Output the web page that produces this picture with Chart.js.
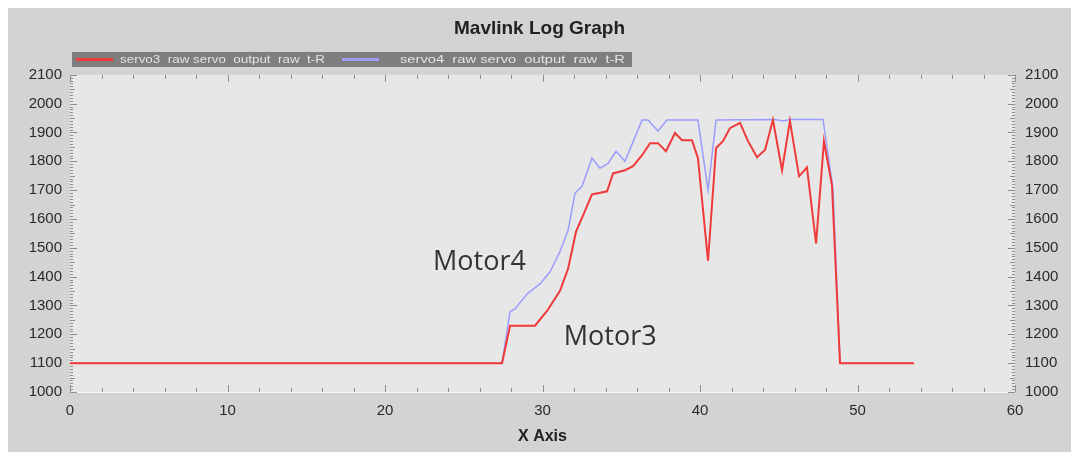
<!DOCTYPE html>
<html>
<head>
<meta charset="utf-8">
<script src="https://cdn.jsdelivr.net/npm/chart.js@4/dist/chart.umd.min.js"></script>
<style>
  html, body { margin: 0; padding: 0; background: #ffffff; }
  canvas { display: block; }
</style>
</head>
<body>
<canvas id="c" width="1079" height="460"></canvas>
<script>
// ---- data ----
const servo3X = [0, 27.43, 27.94, 29.52, 30.29, 31.11, 31.62, 32.13, 32.57, 33.14, 34.10, 34.48, 35.24, 35.75, 36.32, 36.83, 37.33, 37.84, 38.41, 38.86, 39.49, 39.87, 40.51, 41.02, 41.46, 41.90, 42.54, 43.05, 43.62, 44.13, 44.63, 45.21, 45.71, 46.29, 46.79, 47.37, 47.87, 48.38, 48.89, 53.59];
const servo3Y = [1100, 1100, 1230, 1230, 1281, 1351, 1427, 1556, 1612, 1685, 1696, 1758, 1769, 1783, 1821, 1863, 1863, 1835, 1898, 1873, 1873, 1811, 1455, 1846, 1870, 1915, 1933, 1870, 1814, 1839, 1944, 1769, 1940, 1748, 1779, 1515, 1870, 1717, 1100, 1100];
const servo4X = [0, 27.43, 27.94, 28.25, 29.02, 29.84, 30.48, 31.11, 31.62, 32.06, 32.51, 33.14, 33.65, 34.16, 34.67, 35.24, 36.32, 36.70, 37.33, 37.90, 39.87, 40.51, 41.02, 44.76, 45.27, 45.71, 47.81, 48.44, 48.89, 53.59];
const servo4Y = [1100, 1100, 1278, 1288, 1340, 1375, 1417, 1487, 1560, 1689, 1713, 1811, 1776, 1793, 1835, 1800, 1943, 1943, 1905, 1943, 1943, 1700, 1943, 1945, 1940, 1945, 1945, 1706, 1100, 1100];
const seriesLabels = ['servo3  raw servo  output  raw  t-R', 'servo4  raw servo  output  raw  t-R'];
const chartTitle = 'Mavlink Log Graph';
const xAxisTitle = 'X Axis';
const xMin = 0, xMax = 60, xStep = 10;
const yMin = 1000, yMax = 2100, yStep = 100;
const annotations = [
  { text: 'Motor4', x: 26.0, y: 1450 },
  { text: 'Motor3', x: 34.3, y: 1190 }
];

const FONT = "'Liberation Sans', Arial, sans-serif";
const toPts = (xs, ys) => xs.map((x, i) => ({ x: x, y: ys[i] }));

const bgPlugin = {
  id: 'bg',
  beforeDraw(chart) {
    const { ctx, chartArea: a } = chart;
    ctx.save();
    ctx.fillStyle = '#ffffff';
    ctx.fillRect(0, 0, chart.width, chart.height);
    ctx.fillStyle = '#d3d3d3';
    ctx.fillRect(8, 8, chart.width - 16, chart.height - 16);
    ctx.fillStyle = '#e7e7e7';
    ctx.fillRect(a.left, a.top, a.right - a.left, a.bottom - a.top);
    ctx.strokeStyle = '#f6f6f6';
    ctx.lineWidth = 1;
    ctx.beginPath();
    ctx.moveTo(a.left, a.bottom + 0.5);
    ctx.lineTo(a.right, a.bottom + 0.5);
    ctx.stroke();
    ctx.restore();
  },
  beforeDatasetsDraw(chart) {
    const { ctx, chartArea: a, scales } = chart;
    const ys = scales.y, xs = scales.x;
    ctx.save();
    ctx.strokeStyle = '#8e8e8e';
    ctx.lineWidth = 1;
    ctx.beginPath();
    for (let v = yMin; v <= yMax; v += 10) {
      const len = v % 100 === 0 ? 7 : (v % 50 === 0 ? 5 : 3);
      const py = Math.round(ys.getPixelForValue(v)) + 0.5;
      ctx.moveTo(a.left, py); ctx.lineTo(a.left + len, py);
      ctx.moveTo(a.right, py); ctx.lineTo(a.right - len, py);
    }
    for (let v = xMin; v <= xMax; v += 2) {
      const len = v % 10 === 0 ? 7 : 4;
      const px = Math.round(xs.getPixelForValue(v)) + 0.5;
      ctx.moveTo(px, a.bottom); ctx.lineTo(px, a.bottom - len);
      ctx.moveTo(px, a.top); ctx.lineTo(px, a.top + len);
    }
    ctx.stroke();
    ctx.restore();
  },
  afterDatasetsDraw(chart) {
    const { ctx, scales } = chart;
    ctx.save();
    ctx.font = "27px 'Open Sans', sans-serif";
    ctx.fillStyle = '#333333';
    ctx.textAlign = 'center';
    ctx.textBaseline = 'middle';
    annotations.forEach(an => {
      ctx.fillText(an.text, scales.x.getPixelForValue(an.x), scales.y.getPixelForValue(an.y));
    });
    ctx.restore();
  },
  afterDraw(chart) {
    // legend bar
    const { ctx } = chart;
    const ds = chart.data.datasets;
    ctx.save();
    ctx.fillStyle = '#7e7e7e';
    ctx.fillRect(72, 52, 560, 15);
    ctx.font = '11px ' + FONT;
    ctx.textBaseline = 'middle';
    const sampleStart = [76, 342];
    const textStart = [120, 400];
    const textWidth = [205, 225];
    ds.forEach((d, i) => {
      const x0 = sampleStart[i];
      ctx.strokeStyle = d.borderColor;
      ctx.lineWidth = 3;
      ctx.beginPath();
      ctx.moveTo(x0, 59.5); ctx.lineTo(x0 + 37, 59.5);
      ctx.stroke();
      ctx.fillStyle = '#e4e4e4';
      const w = ctx.measureText(d.label).width;
      ctx.save();
      ctx.translate(textStart[i], 60);
      ctx.scale(textWidth[i] / w, 1);
      ctx.fillText(d.label, 0, 0);
      ctx.restore();
    });
    ctx.restore();
  }
};

const plainTick = v => String(v);
const tickFont = { family: FONT, size: 15 };

new Chart(document.getElementById('c'), {
  type: 'scatter',
  data: {
    datasets: [
      { label: seriesLabels[0], data: toPts(servo3X, servo3Y), showLine: true, borderColor: '#f03a3a', backgroundColor: '#f03a3a', borderWidth: 2, pointRadius: 0, tension: 0 },
      { label: seriesLabels[1], data: toPts(servo4X, servo4Y), showLine: true, borderColor: '#9c9cff', backgroundColor: '#9c9cff', borderWidth: 1.5, pointRadius: 0, tension: 0 }
    ]
  },
  options: {
    responsive: false,
    animation: false,
    devicePixelRatio: 1,
    layout: { padding: { left: 8, right: 8, top: 8, bottom: 8 } },
    plugins: {
      legend: { display: false },
      tooltip: { enabled: false },
      title: {
        display: true,
        text: chartTitle,
        color: '#222222',
        font: { family: FONT, size: 19, weight: 'bold' },
        padding: { top: 9, bottom: 35 }
      }
    },
    scales: {
      x: {
        type: 'linear',
        min: xMin, max: xMax,
        ticks: { stepSize: xStep, color: '#2a2a2a', font: tickFont, padding: 10, maxRotation: 0, callback: plainTick },
        grid: { display: false, drawTicks: false },
        border: { display: false },
        title: { display: true, text: xAxisTitle, color: '#222222', font: { family: FONT, size: 16, weight: 'bold' }, padding: { top: 0, bottom: 6 } },
        afterFit(s) { s.height = 60; }
      },
      y: {
        type: 'linear', position: 'left',
        min: yMin, max: yMax,
        ticks: { stepSize: yStep, color: '#2a2a2a', font: tickFont, padding: 8, callback: plainTick },
        grid: { display: false, drawTicks: false },
        border: { display: false },
        afterFit(s) { s.width = 62; }
      },
      y2: {
        type: 'linear', position: 'right',
        min: yMin, max: yMax,
        ticks: { stepSize: yStep, color: '#2a2a2a', font: tickFont, padding: 10, callback: plainTick },
        grid: { display: false, drawTicks: false },
        border: { display: false },
        afterFit(s) { s.width = 56; }
      }
    }
  },
  plugins: [bgPlugin]
});
</script>
</body>
</html>
